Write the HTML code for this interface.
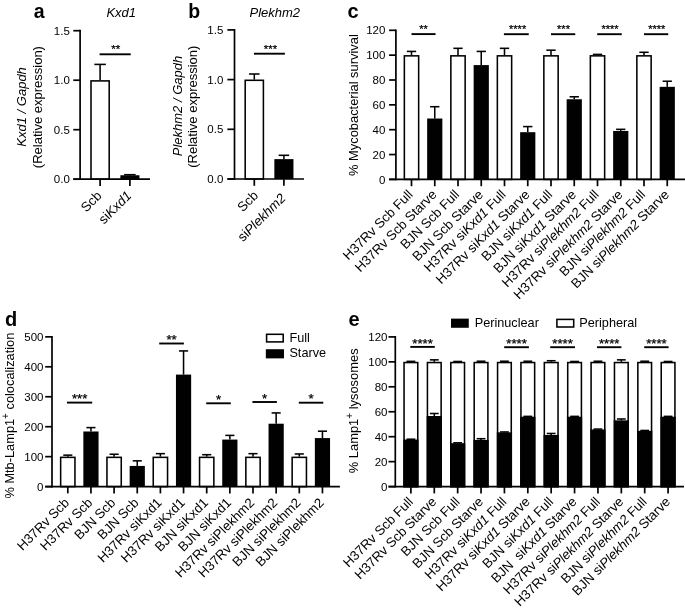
<!DOCTYPE html>
<html lang="en">
<head>
<meta charset="utf-8">
<title>Figure</title>
<style>
html,body{margin:0;padding:0;background:#fff;}
body{width:685px;height:612px;overflow:hidden;}
svg{display:block;will-change:transform;opacity:0.999;}
svg text{font-family:"Liberation Sans",sans-serif;fill:#000;white-space:pre;}
</style>
</head>
<body>
<svg width="685" height="612" viewBox="0 0 685 612" xml:space="preserve">
<rect x="0" y="0" width="685" height="612" fill="#fff"/>
<text x="33.70" y="17.60" font-size="19.5" font-weight="bold">a</text>
<text x="121.20" y="17.00" font-size="13.0" text-anchor="middle" font-style="italic">Kxd1</text>
<line x1="100.10" y1="64.40" x2="100.10" y2="80.20" stroke="#000" stroke-width="1.55" stroke-linecap="butt"/>
<line x1="94.35" y1="64.40" x2="105.85" y2="64.40" stroke="#000" stroke-width="1.55" stroke-linecap="butt"/>
<rect x="91.00" y="80.90" width="18.20" height="98.30" fill="#fff" stroke="#000" stroke-width="1.55"/>
<line x1="129.90" y1="174.70" x2="129.90" y2="175.24" stroke="#000" stroke-width="1.55" stroke-linecap="butt"/>
<line x1="124.15" y1="174.70" x2="135.65" y2="174.70" stroke="#000" stroke-width="1.55" stroke-linecap="butt"/>
<rect x="120.35" y="175.24" width="19.10" height="3.96" fill="#000"/>
<line x1="80.10" y1="29.85" x2="80.10" y2="180.05" stroke="#000" stroke-width="1.7" stroke-linecap="butt"/>
<line x1="73.30" y1="30.70" x2="80.10" y2="30.70" stroke="#000" stroke-width="1.7" stroke-linecap="butt"/>
<text x="69.80" y="35.00" font-size="11.5" text-anchor="end">1.5</text>
<line x1="73.30" y1="80.20" x2="80.10" y2="80.20" stroke="#000" stroke-width="1.7" stroke-linecap="butt"/>
<text x="69.80" y="84.00" font-size="11.5" text-anchor="end">1.0</text>
<line x1="73.30" y1="129.70" x2="80.10" y2="129.70" stroke="#000" stroke-width="1.7" stroke-linecap="butt"/>
<text x="69.80" y="134.00" font-size="11.5" text-anchor="end">0.5</text>
<line x1="73.30" y1="179.20" x2="80.10" y2="179.20" stroke="#000" stroke-width="1.7" stroke-linecap="butt"/>
<text x="69.80" y="183.00" font-size="11.5" text-anchor="end">0.0</text>
<line x1="73.30" y1="179.20" x2="150.00" y2="179.20" stroke="#000" stroke-width="1.7" stroke-linecap="butt"/>
<line x1="100.10" y1="179.20" x2="100.10" y2="186.00" stroke="#000" stroke-width="1.7" stroke-linecap="butt"/>
<line x1="129.90" y1="179.20" x2="129.90" y2="186.00" stroke="#000" stroke-width="1.7" stroke-linecap="butt"/>
<line x1="99.60" y1="54.30" x2="130.70" y2="54.30" stroke="#000" stroke-width="1.9" stroke-linecap="butt"/>
<text x="115.65" y="53.30" font-size="11.6" text-anchor="middle" stroke="#000" stroke-width="0.25">**</text>
<text x="102.40" y="196.50" font-size="13.3" text-anchor="end" transform="rotate(-45 102.40 196.50)">Scb</text>
<text x="132.20" y="196.50" font-size="13.3" text-anchor="end" transform="rotate(-45 132.20 196.50)">si<tspan font-style="italic">Kxd1</tspan></text>
<text x="26.50" y="106.90" font-size="13.0" text-anchor="middle" transform="rotate(-90 26.50 106.90)"><tspan font-style="italic">Kxd1 / Gapdh</tspan></text>
<text x="42.30" y="107.10" font-size="13.0" text-anchor="middle" transform="rotate(-90 42.30 107.10)">(Relative expression)</text>
<text x="188.30" y="17.60" font-size="19.5" font-weight="bold">b</text>
<text x="274.80" y="17.00" font-size="13.0" text-anchor="middle" font-style="italic">Plekhm2</text>
<line x1="254.30" y1="74.00" x2="254.30" y2="79.60" stroke="#000" stroke-width="1.55" stroke-linecap="butt"/>
<line x1="249.05" y1="74.00" x2="259.55" y2="74.00" stroke="#000" stroke-width="1.55" stroke-linecap="butt"/>
<rect x="245.20" y="80.30" width="18.20" height="98.70" fill="#fff" stroke="#000" stroke-width="1.55"/>
<line x1="283.90" y1="155.30" x2="283.90" y2="159.12" stroke="#000" stroke-width="1.55" stroke-linecap="butt"/>
<line x1="278.65" y1="155.30" x2="289.15" y2="155.30" stroke="#000" stroke-width="1.55" stroke-linecap="butt"/>
<rect x="274.35" y="159.12" width="19.10" height="19.88" fill="#000"/>
<line x1="234.50" y1="29.05" x2="234.50" y2="179.85" stroke="#000" stroke-width="1.7" stroke-linecap="butt"/>
<line x1="227.40" y1="29.90" x2="234.50" y2="29.90" stroke="#000" stroke-width="1.7" stroke-linecap="butt"/>
<text x="223.30" y="34.00" font-size="11.5" text-anchor="end">1.5</text>
<line x1="227.40" y1="79.60" x2="234.50" y2="79.60" stroke="#000" stroke-width="1.7" stroke-linecap="butt"/>
<text x="223.30" y="84.00" font-size="11.5" text-anchor="end">1.0</text>
<line x1="227.40" y1="129.30" x2="234.50" y2="129.30" stroke="#000" stroke-width="1.7" stroke-linecap="butt"/>
<text x="223.30" y="133.00" font-size="11.5" text-anchor="end">0.5</text>
<line x1="227.40" y1="179.00" x2="234.50" y2="179.00" stroke="#000" stroke-width="1.7" stroke-linecap="butt"/>
<text x="223.30" y="183.00" font-size="11.5" text-anchor="end">0.0</text>
<line x1="227.40" y1="179.00" x2="304.00" y2="179.00" stroke="#000" stroke-width="1.7" stroke-linecap="butt"/>
<line x1="254.30" y1="179.00" x2="254.30" y2="185.80" stroke="#000" stroke-width="1.7" stroke-linecap="butt"/>
<line x1="283.90" y1="179.00" x2="283.90" y2="185.80" stroke="#000" stroke-width="1.7" stroke-linecap="butt"/>
<line x1="254.00" y1="53.70" x2="284.90" y2="53.70" stroke="#000" stroke-width="1.9" stroke-linecap="butt"/>
<text x="270.45" y="52.70" font-size="11.4" text-anchor="middle" stroke="#000" stroke-width="0.25">***</text>
<text x="259.00" y="196.20" font-size="13.3" text-anchor="end" transform="rotate(-45 259.00 196.20)">Scb</text>
<text x="286.40" y="198.90" font-size="13.3" text-anchor="end" transform="rotate(-45 286.40 198.90)">si<tspan font-style="italic">Plekhm2</tspan></text>
<text x="182.00" y="106.00" font-size="13.0" text-anchor="middle" transform="rotate(-90 182.00 106.00)"><tspan font-style="italic">Plekhm2 / Gapdh</tspan></text>
<text x="197.50" y="106.65" font-size="13.0" text-anchor="middle" transform="rotate(-90 197.50 106.65)">(Relative expression)</text>
<text x="347.50" y="17.70" font-size="20" font-weight="bold">c</text>
<line x1="411.50" y1="51.42" x2="411.50" y2="55.15" stroke="#000" stroke-width="1.55" stroke-linecap="butt"/>
<line x1="406.85" y1="51.42" x2="416.15" y2="51.42" stroke="#000" stroke-width="1.55" stroke-linecap="butt"/>
<rect x="404.35" y="55.85" width="14.30" height="123.55" fill="#fff" stroke="#000" stroke-width="1.55"/>
<line x1="434.75" y1="106.71" x2="434.75" y2="118.52" stroke="#000" stroke-width="1.55" stroke-linecap="butt"/>
<line x1="430.10" y1="106.71" x2="439.40" y2="106.71" stroke="#000" stroke-width="1.55" stroke-linecap="butt"/>
<rect x="427.15" y="118.52" width="15.20" height="60.88" fill="#000"/>
<line x1="458.00" y1="48.32" x2="458.00" y2="55.15" stroke="#000" stroke-width="1.55" stroke-linecap="butt"/>
<line x1="453.35" y1="48.32" x2="462.65" y2="48.32" stroke="#000" stroke-width="1.55" stroke-linecap="butt"/>
<rect x="450.85" y="55.85" width="14.30" height="123.55" fill="#fff" stroke="#000" stroke-width="1.55"/>
<line x1="481.25" y1="51.42" x2="481.25" y2="65.09" stroke="#000" stroke-width="1.55" stroke-linecap="butt"/>
<line x1="476.60" y1="51.42" x2="485.90" y2="51.42" stroke="#000" stroke-width="1.55" stroke-linecap="butt"/>
<rect x="473.65" y="65.09" width="15.20" height="114.31" fill="#000"/>
<line x1="504.50" y1="48.32" x2="504.50" y2="55.15" stroke="#000" stroke-width="1.55" stroke-linecap="butt"/>
<line x1="499.85" y1="48.32" x2="509.15" y2="48.32" stroke="#000" stroke-width="1.55" stroke-linecap="butt"/>
<rect x="497.35" y="55.85" width="14.30" height="123.55" fill="#fff" stroke="#000" stroke-width="1.55"/>
<line x1="527.75" y1="126.59" x2="527.75" y2="132.19" stroke="#000" stroke-width="1.55" stroke-linecap="butt"/>
<line x1="523.10" y1="126.59" x2="532.40" y2="126.59" stroke="#000" stroke-width="1.55" stroke-linecap="butt"/>
<rect x="520.15" y="132.19" width="15.20" height="47.22" fill="#000"/>
<line x1="551.00" y1="50.18" x2="551.00" y2="55.15" stroke="#000" stroke-width="1.55" stroke-linecap="butt"/>
<line x1="546.35" y1="50.18" x2="555.65" y2="50.18" stroke="#000" stroke-width="1.55" stroke-linecap="butt"/>
<rect x="543.85" y="55.85" width="14.30" height="123.55" fill="#fff" stroke="#000" stroke-width="1.55"/>
<line x1="574.25" y1="96.77" x2="574.25" y2="99.26" stroke="#000" stroke-width="1.55" stroke-linecap="butt"/>
<line x1="569.60" y1="96.77" x2="578.90" y2="96.77" stroke="#000" stroke-width="1.55" stroke-linecap="butt"/>
<rect x="566.65" y="99.26" width="15.20" height="80.14" fill="#000"/>
<line x1="597.50" y1="54.40" x2="597.50" y2="55.15" stroke="#000" stroke-width="1.55" stroke-linecap="butt"/>
<line x1="592.85" y1="54.40" x2="602.15" y2="54.40" stroke="#000" stroke-width="1.55" stroke-linecap="butt"/>
<rect x="590.35" y="55.85" width="14.30" height="123.55" fill="#fff" stroke="#000" stroke-width="1.55"/>
<line x1="620.75" y1="129.33" x2="620.75" y2="130.94" stroke="#000" stroke-width="1.55" stroke-linecap="butt"/>
<line x1="616.10" y1="129.33" x2="625.40" y2="129.33" stroke="#000" stroke-width="1.55" stroke-linecap="butt"/>
<rect x="613.15" y="130.94" width="15.20" height="48.46" fill="#000"/>
<line x1="644.00" y1="52.29" x2="644.00" y2="55.15" stroke="#000" stroke-width="1.55" stroke-linecap="butt"/>
<line x1="639.35" y1="52.29" x2="648.65" y2="52.29" stroke="#000" stroke-width="1.55" stroke-linecap="butt"/>
<rect x="636.85" y="55.85" width="14.30" height="123.55" fill="#fff" stroke="#000" stroke-width="1.55"/>
<line x1="667.25" y1="81.24" x2="667.25" y2="86.83" stroke="#000" stroke-width="1.55" stroke-linecap="butt"/>
<line x1="662.60" y1="81.24" x2="671.90" y2="81.24" stroke="#000" stroke-width="1.55" stroke-linecap="butt"/>
<rect x="659.65" y="86.83" width="15.20" height="92.57" fill="#000"/>
<line x1="395.90" y1="29.45" x2="395.90" y2="180.25" stroke="#000" stroke-width="1.7" stroke-linecap="butt"/>
<line x1="389.10" y1="30.30" x2="395.90" y2="30.30" stroke="#000" stroke-width="1.7" stroke-linecap="butt"/>
<text x="385.40" y="34.00" font-size="11.5" text-anchor="end">120</text>
<line x1="389.10" y1="55.15" x2="395.90" y2="55.15" stroke="#000" stroke-width="1.7" stroke-linecap="butt"/>
<text x="385.40" y="59.00" font-size="11.5" text-anchor="end">100</text>
<line x1="389.10" y1="80.00" x2="395.90" y2="80.00" stroke="#000" stroke-width="1.7" stroke-linecap="butt"/>
<text x="385.40" y="84.00" font-size="11.5" text-anchor="end">80</text>
<line x1="389.10" y1="104.85" x2="395.90" y2="104.85" stroke="#000" stroke-width="1.7" stroke-linecap="butt"/>
<text x="385.40" y="109.00" font-size="11.5" text-anchor="end">60</text>
<line x1="389.10" y1="129.70" x2="395.90" y2="129.70" stroke="#000" stroke-width="1.7" stroke-linecap="butt"/>
<text x="385.40" y="134.00" font-size="11.5" text-anchor="end">40</text>
<line x1="389.10" y1="154.55" x2="395.90" y2="154.55" stroke="#000" stroke-width="1.7" stroke-linecap="butt"/>
<text x="385.40" y="159.00" font-size="11.5" text-anchor="end">20</text>
<line x1="389.10" y1="179.40" x2="395.90" y2="179.40" stroke="#000" stroke-width="1.7" stroke-linecap="butt"/>
<text x="385.40" y="184.00" font-size="11.5" text-anchor="end">0</text>
<line x1="389.10" y1="179.40" x2="685.00" y2="179.40" stroke="#000" stroke-width="1.7" stroke-linecap="butt"/>
<line x1="411.50" y1="179.40" x2="411.50" y2="186.20" stroke="#000" stroke-width="1.7" stroke-linecap="butt"/>
<line x1="434.75" y1="179.40" x2="434.75" y2="186.20" stroke="#000" stroke-width="1.7" stroke-linecap="butt"/>
<line x1="458.00" y1="179.40" x2="458.00" y2="186.20" stroke="#000" stroke-width="1.7" stroke-linecap="butt"/>
<line x1="481.25" y1="179.40" x2="481.25" y2="186.20" stroke="#000" stroke-width="1.7" stroke-linecap="butt"/>
<line x1="504.50" y1="179.40" x2="504.50" y2="186.20" stroke="#000" stroke-width="1.7" stroke-linecap="butt"/>
<line x1="527.75" y1="179.40" x2="527.75" y2="186.20" stroke="#000" stroke-width="1.7" stroke-linecap="butt"/>
<line x1="551.00" y1="179.40" x2="551.00" y2="186.20" stroke="#000" stroke-width="1.7" stroke-linecap="butt"/>
<line x1="574.25" y1="179.40" x2="574.25" y2="186.20" stroke="#000" stroke-width="1.7" stroke-linecap="butt"/>
<line x1="597.50" y1="179.40" x2="597.50" y2="186.20" stroke="#000" stroke-width="1.7" stroke-linecap="butt"/>
<line x1="620.75" y1="179.40" x2="620.75" y2="186.20" stroke="#000" stroke-width="1.7" stroke-linecap="butt"/>
<line x1="644.00" y1="179.40" x2="644.00" y2="186.20" stroke="#000" stroke-width="1.7" stroke-linecap="butt"/>
<line x1="667.25" y1="179.40" x2="667.25" y2="186.20" stroke="#000" stroke-width="1.7" stroke-linecap="butt"/>
<line x1="411.50" y1="34.10" x2="435.55" y2="34.10" stroke="#000" stroke-width="1.9" stroke-linecap="butt"/>
<text x="423.52" y="33.10" font-size="11.0" text-anchor="middle" stroke="#000" stroke-width="0.25">**</text>
<line x1="503.90" y1="34.20" x2="528.75" y2="34.20" stroke="#000" stroke-width="1.9" stroke-linecap="butt"/>
<text x="517.62" y="33.20" font-size="11.0" text-anchor="middle" stroke="#000" stroke-width="0.25">****</text>
<line x1="551.00" y1="34.20" x2="575.25" y2="34.20" stroke="#000" stroke-width="1.9" stroke-linecap="butt"/>
<text x="563.52" y="33.20" font-size="11.0" text-anchor="middle" stroke="#000" stroke-width="0.25">***</text>
<line x1="597.20" y1="34.20" x2="621.75" y2="34.20" stroke="#000" stroke-width="1.9" stroke-linecap="butt"/>
<text x="609.98" y="33.20" font-size="11.0" text-anchor="middle" stroke="#000" stroke-width="0.25">****</text>
<line x1="644.00" y1="34.20" x2="668.25" y2="34.20" stroke="#000" stroke-width="1.9" stroke-linecap="butt"/>
<text x="656.83" y="33.20" font-size="11.0" text-anchor="middle" stroke="#000" stroke-width="0.25">****</text>
<text x="413.70" y="195.40" font-size="13.3" text-anchor="end" transform="rotate(-45 413.70 195.40)">H37Rv Scb Full</text>
<text x="437.55" y="195.40" font-size="13.3" text-anchor="end" transform="rotate(-45 437.55 195.40)">H37Rv Scb Starve</text>
<text x="460.20" y="195.40" font-size="13.3" text-anchor="end" transform="rotate(-45 460.20 195.40)">BJN Scb Full</text>
<text x="484.05" y="195.40" font-size="13.3" text-anchor="end" transform="rotate(-45 484.05 195.40)">BJN Scb Starve</text>
<text x="506.70" y="195.40" font-size="13.3" text-anchor="end" transform="rotate(-45 506.70 195.40)">H37Rv si<tspan font-style="italic">Kxd1</tspan> Full</text>
<text x="530.55" y="195.40" font-size="13.3" text-anchor="end" transform="rotate(-45 530.55 195.40)">H37Rv si<tspan font-style="italic">Kxd1</tspan> Starve</text>
<text x="553.20" y="195.40" font-size="13.3" text-anchor="end" transform="rotate(-45 553.20 195.40)">BJN si<tspan font-style="italic">Kxd1</tspan> Full</text>
<text x="577.05" y="195.40" font-size="13.3" text-anchor="end" transform="rotate(-45 577.05 195.40)">BJN si<tspan font-style="italic">Kxd1</tspan> Starve</text>
<text x="599.70" y="195.40" font-size="13.3" text-anchor="end" transform="rotate(-45 599.70 195.40)">H37Rv si<tspan font-style="italic">Plekhm2</tspan> Full</text>
<text x="623.55" y="195.40" font-size="13.3" text-anchor="end" transform="rotate(-45 623.55 195.40)">H37Rv si<tspan font-style="italic">Plekhm2</tspan> Starve</text>
<text x="646.20" y="195.40" font-size="13.3" text-anchor="end" transform="rotate(-45 646.20 195.40)">BJN si<tspan font-style="italic">Plekhm2</tspan> Full</text>
<text x="670.05" y="195.40" font-size="13.3" text-anchor="end" transform="rotate(-45 670.05 195.40)">BJN si<tspan font-style="italic">Plekhm2</tspan> Starve</text>
<text x="358.00" y="105.10" font-size="12.9" text-anchor="middle" transform="rotate(-90 358.00 105.10)">% Mycobacterial survival</text>
<text x="5.10" y="326.00" font-size="20" font-weight="bold">d</text>
<line x1="67.80" y1="455.15" x2="67.80" y2="456.65" stroke="#000" stroke-width="1.55" stroke-linecap="butt"/>
<line x1="63.25" y1="455.15" x2="72.35" y2="455.15" stroke="#000" stroke-width="1.55" stroke-linecap="butt"/>
<rect x="60.65" y="457.35" width="14.30" height="29.25" fill="#fff" stroke="#000" stroke-width="1.55"/>
<line x1="90.95" y1="427.60" x2="90.95" y2="431.49" stroke="#000" stroke-width="1.55" stroke-linecap="butt"/>
<line x1="86.40" y1="427.60" x2="95.50" y2="427.60" stroke="#000" stroke-width="1.55" stroke-linecap="butt"/>
<rect x="83.35" y="431.49" width="15.20" height="55.11" fill="#000"/>
<line x1="114.10" y1="454.25" x2="114.10" y2="456.65" stroke="#000" stroke-width="1.55" stroke-linecap="butt"/>
<line x1="109.55" y1="454.25" x2="118.65" y2="454.25" stroke="#000" stroke-width="1.55" stroke-linecap="butt"/>
<rect x="106.95" y="457.35" width="14.30" height="29.25" fill="#fff" stroke="#000" stroke-width="1.55"/>
<line x1="137.25" y1="460.84" x2="137.25" y2="465.93" stroke="#000" stroke-width="1.55" stroke-linecap="butt"/>
<line x1="132.70" y1="460.84" x2="141.80" y2="460.84" stroke="#000" stroke-width="1.55" stroke-linecap="butt"/>
<rect x="129.65" y="465.93" width="15.20" height="20.67" fill="#000"/>
<line x1="160.40" y1="453.66" x2="160.40" y2="456.65" stroke="#000" stroke-width="1.55" stroke-linecap="butt"/>
<line x1="155.85" y1="453.66" x2="164.95" y2="453.66" stroke="#000" stroke-width="1.55" stroke-linecap="butt"/>
<rect x="153.25" y="457.35" width="14.30" height="29.25" fill="#fff" stroke="#000" stroke-width="1.55"/>
<line x1="183.55" y1="350.93" x2="183.55" y2="374.59" stroke="#000" stroke-width="1.55" stroke-linecap="butt"/>
<line x1="179.00" y1="350.93" x2="188.10" y2="350.93" stroke="#000" stroke-width="1.55" stroke-linecap="butt"/>
<rect x="175.95" y="374.59" width="15.20" height="112.01" fill="#000"/>
<line x1="206.70" y1="454.70" x2="206.70" y2="456.65" stroke="#000" stroke-width="1.55" stroke-linecap="butt"/>
<line x1="202.15" y1="454.70" x2="211.25" y2="454.70" stroke="#000" stroke-width="1.55" stroke-linecap="butt"/>
<rect x="199.55" y="457.35" width="14.30" height="29.25" fill="#fff" stroke="#000" stroke-width="1.55"/>
<line x1="229.85" y1="435.39" x2="229.85" y2="439.58" stroke="#000" stroke-width="1.55" stroke-linecap="butt"/>
<line x1="225.30" y1="435.39" x2="234.40" y2="435.39" stroke="#000" stroke-width="1.55" stroke-linecap="butt"/>
<rect x="222.25" y="439.58" width="15.20" height="47.02" fill="#000"/>
<line x1="253.00" y1="453.66" x2="253.00" y2="456.65" stroke="#000" stroke-width="1.55" stroke-linecap="butt"/>
<line x1="248.45" y1="453.66" x2="257.55" y2="453.66" stroke="#000" stroke-width="1.55" stroke-linecap="butt"/>
<rect x="245.85" y="457.35" width="14.30" height="29.25" fill="#fff" stroke="#000" stroke-width="1.55"/>
<line x1="276.15" y1="412.92" x2="276.15" y2="423.71" stroke="#000" stroke-width="1.55" stroke-linecap="butt"/>
<line x1="271.60" y1="412.92" x2="280.70" y2="412.92" stroke="#000" stroke-width="1.55" stroke-linecap="butt"/>
<rect x="268.55" y="423.71" width="15.20" height="62.89" fill="#000"/>
<line x1="299.30" y1="453.95" x2="299.30" y2="456.65" stroke="#000" stroke-width="1.55" stroke-linecap="butt"/>
<line x1="294.75" y1="453.95" x2="303.85" y2="453.95" stroke="#000" stroke-width="1.55" stroke-linecap="butt"/>
<rect x="292.15" y="457.35" width="14.30" height="29.25" fill="#fff" stroke="#000" stroke-width="1.55"/>
<line x1="322.45" y1="431.19" x2="322.45" y2="438.08" stroke="#000" stroke-width="1.55" stroke-linecap="butt"/>
<line x1="317.90" y1="431.19" x2="327.00" y2="431.19" stroke="#000" stroke-width="1.55" stroke-linecap="butt"/>
<rect x="314.85" y="438.08" width="15.20" height="48.52" fill="#000"/>
<line x1="52.00" y1="336.00" x2="52.00" y2="487.45" stroke="#000" stroke-width="1.7" stroke-linecap="butt"/>
<line x1="45.20" y1="336.85" x2="52.00" y2="336.85" stroke="#000" stroke-width="1.7" stroke-linecap="butt"/>
<text x="43.50" y="341.00" font-size="11.5" text-anchor="end">500</text>
<line x1="45.20" y1="366.80" x2="52.00" y2="366.80" stroke="#000" stroke-width="1.7" stroke-linecap="butt"/>
<text x="43.50" y="371.00" font-size="11.5" text-anchor="end">400</text>
<line x1="45.20" y1="396.75" x2="52.00" y2="396.75" stroke="#000" stroke-width="1.7" stroke-linecap="butt"/>
<text x="43.50" y="401.00" font-size="11.5" text-anchor="end">300</text>
<line x1="45.20" y1="426.70" x2="52.00" y2="426.70" stroke="#000" stroke-width="1.7" stroke-linecap="butt"/>
<text x="43.50" y="431.00" font-size="11.5" text-anchor="end">200</text>
<line x1="45.20" y1="456.65" x2="52.00" y2="456.65" stroke="#000" stroke-width="1.7" stroke-linecap="butt"/>
<text x="43.50" y="461.00" font-size="11.5" text-anchor="end">100</text>
<line x1="45.20" y1="486.60" x2="52.00" y2="486.60" stroke="#000" stroke-width="1.7" stroke-linecap="butt"/>
<text x="43.50" y="491.00" font-size="11.5" text-anchor="end">0</text>
<line x1="45.20" y1="486.60" x2="339.90" y2="486.60" stroke="#000" stroke-width="1.7" stroke-linecap="butt"/>
<line x1="67.80" y1="486.60" x2="67.80" y2="493.40" stroke="#000" stroke-width="1.7" stroke-linecap="butt"/>
<line x1="90.95" y1="486.60" x2="90.95" y2="493.40" stroke="#000" stroke-width="1.7" stroke-linecap="butt"/>
<line x1="114.10" y1="486.60" x2="114.10" y2="493.40" stroke="#000" stroke-width="1.7" stroke-linecap="butt"/>
<line x1="137.25" y1="486.60" x2="137.25" y2="493.40" stroke="#000" stroke-width="1.7" stroke-linecap="butt"/>
<line x1="160.40" y1="486.60" x2="160.40" y2="493.40" stroke="#000" stroke-width="1.7" stroke-linecap="butt"/>
<line x1="183.55" y1="486.60" x2="183.55" y2="493.40" stroke="#000" stroke-width="1.7" stroke-linecap="butt"/>
<line x1="206.70" y1="486.60" x2="206.70" y2="493.40" stroke="#000" stroke-width="1.7" stroke-linecap="butt"/>
<line x1="229.85" y1="486.60" x2="229.85" y2="493.40" stroke="#000" stroke-width="1.7" stroke-linecap="butt"/>
<line x1="253.00" y1="486.60" x2="253.00" y2="493.40" stroke="#000" stroke-width="1.7" stroke-linecap="butt"/>
<line x1="276.15" y1="486.60" x2="276.15" y2="493.40" stroke="#000" stroke-width="1.7" stroke-linecap="butt"/>
<line x1="299.30" y1="486.60" x2="299.30" y2="493.40" stroke="#000" stroke-width="1.7" stroke-linecap="butt"/>
<line x1="322.45" y1="486.60" x2="322.45" y2="493.40" stroke="#000" stroke-width="1.7" stroke-linecap="butt"/>
<line x1="67.00" y1="402.60" x2="92.20" y2="402.60" stroke="#000" stroke-width="1.9" stroke-linecap="butt"/>
<text x="79.60" y="403.20" font-size="13.2" text-anchor="middle" stroke="#000" stroke-width="0.25">***</text>
<line x1="159.20" y1="343.50" x2="183.90" y2="343.50" stroke="#000" stroke-width="1.9" stroke-linecap="butt"/>
<text x="171.55" y="344.10" font-size="13.2" text-anchor="middle" stroke="#000" stroke-width="0.25">**</text>
<line x1="206.20" y1="403.30" x2="230.80" y2="403.30" stroke="#000" stroke-width="1.9" stroke-linecap="butt"/>
<text x="218.50" y="403.90" font-size="13.2" text-anchor="middle" stroke="#000" stroke-width="0.25">*</text>
<line x1="252.40" y1="402.00" x2="276.90" y2="402.00" stroke="#000" stroke-width="1.9" stroke-linecap="butt"/>
<text x="264.65" y="402.60" font-size="13.2" text-anchor="middle" stroke="#000" stroke-width="0.25">*</text>
<line x1="298.80" y1="402.70" x2="323.30" y2="402.70" stroke="#000" stroke-width="1.9" stroke-linecap="butt"/>
<text x="311.05" y="403.30" font-size="13.2" text-anchor="middle" stroke="#000" stroke-width="0.25">*</text>
<text x="70.00" y="503.60" font-size="13.3" text-anchor="end" transform="rotate(-45 70.00 503.60)">H37Rv Scb</text>
<text x="93.15" y="503.60" font-size="13.3" text-anchor="end" transform="rotate(-45 93.15 503.60)">H37Rv Scb</text>
<text x="116.30" y="503.60" font-size="13.3" text-anchor="end" transform="rotate(-45 116.30 503.60)">BJN Scb</text>
<text x="139.45" y="503.60" font-size="13.3" text-anchor="end" transform="rotate(-45 139.45 503.60)">BJN Scb</text>
<text x="162.60" y="503.60" font-size="13.3" text-anchor="end" transform="rotate(-45 162.60 503.60)">H37Rv siKxd1</text>
<text x="185.75" y="503.60" font-size="13.3" text-anchor="end" transform="rotate(-45 185.75 503.60)">H37Rv siKxd1</text>
<text x="208.90" y="503.60" font-size="13.3" text-anchor="end" transform="rotate(-45 208.90 503.60)">BJN siKxd1</text>
<text x="232.05" y="503.60" font-size="13.3" text-anchor="end" transform="rotate(-45 232.05 503.60)">BJN siKxd1</text>
<text x="255.20" y="503.60" font-size="13.3" text-anchor="end" transform="rotate(-45 255.20 503.60)">H37Rv siPlekhm2</text>
<text x="278.35" y="503.60" font-size="13.3" text-anchor="end" transform="rotate(-45 278.35 503.60)">H37Rv siPlekhm2</text>
<text x="301.50" y="503.60" font-size="13.3" text-anchor="end" transform="rotate(-45 301.50 503.60)">BJN siPlekhm2</text>
<text x="324.65" y="503.60" font-size="13.3" text-anchor="end" transform="rotate(-45 324.65 503.60)">BJN siPlekhm2</text>
<rect x="266.60" y="334.30" width="16.60" height="7.60" fill="#fff" stroke="#000" stroke-width="1.55"/>
<text x="289.40" y="342.00" font-size="12.7">Full</text>
<rect x="266.60" y="350.00" width="16.60" height="7.60" fill="#000" stroke="#000" stroke-width="1.55"/>
<text x="289.40" y="357.40" font-size="12.7">Starve</text>
<text x="14.00" y="415.60" font-size="12.8" text-anchor="middle" transform="rotate(-90 14.00 415.60)">% Mtb-Lamp1<tspan font-size="10" dy="-5">+</tspan><tspan dy="5"> colocalization</tspan></text>
<text x="348.40" y="325.80" font-size="20" font-weight="bold">e</text>
<line x1="410.90" y1="361.35" x2="410.90" y2="361.85" stroke="#000" stroke-width="1.55" stroke-linecap="butt"/>
<line x1="406.50" y1="361.35" x2="415.30" y2="361.35" stroke="#000" stroke-width="1.55" stroke-linecap="butt"/>
<rect x="404.05" y="362.55" width="13.70" height="124.05" fill="#fff" stroke="#000" stroke-width="1.55"/>
<line x1="410.90" y1="439.20" x2="410.90" y2="439.57" stroke="#000" stroke-width="1.55" stroke-linecap="butt"/>
<line x1="406.50" y1="439.20" x2="415.30" y2="439.20" stroke="#000" stroke-width="1.55" stroke-linecap="butt"/>
<rect x="404.05" y="440.34" width="13.70" height="46.26" fill="#000" stroke="#000" stroke-width="1.55"/>
<line x1="434.28" y1="359.85" x2="434.28" y2="361.85" stroke="#000" stroke-width="1.55" stroke-linecap="butt"/>
<line x1="429.88" y1="359.85" x2="438.68" y2="359.85" stroke="#000" stroke-width="1.55" stroke-linecap="butt"/>
<rect x="427.43" y="362.55" width="13.70" height="124.05" fill="#fff" stroke="#000" stroke-width="1.55"/>
<line x1="434.28" y1="413.50" x2="434.28" y2="415.99" stroke="#000" stroke-width="1.55" stroke-linecap="butt"/>
<line x1="429.88" y1="413.50" x2="438.68" y2="413.50" stroke="#000" stroke-width="1.55" stroke-linecap="butt"/>
<rect x="427.43" y="416.77" width="13.70" height="69.83" fill="#000" stroke="#000" stroke-width="1.55"/>
<line x1="457.66" y1="361.48" x2="457.66" y2="361.85" stroke="#000" stroke-width="1.55" stroke-linecap="butt"/>
<line x1="453.26" y1="361.48" x2="462.06" y2="361.48" stroke="#000" stroke-width="1.55" stroke-linecap="butt"/>
<rect x="450.81" y="362.55" width="13.70" height="124.05" fill="#fff" stroke="#000" stroke-width="1.55"/>
<line x1="457.66" y1="442.81" x2="457.66" y2="443.19" stroke="#000" stroke-width="1.55" stroke-linecap="butt"/>
<line x1="453.26" y1="442.81" x2="462.06" y2="442.81" stroke="#000" stroke-width="1.55" stroke-linecap="butt"/>
<rect x="450.81" y="443.96" width="13.70" height="42.64" fill="#000" stroke="#000" stroke-width="1.55"/>
<line x1="481.04" y1="361.23" x2="481.04" y2="361.85" stroke="#000" stroke-width="1.55" stroke-linecap="butt"/>
<line x1="476.64" y1="361.23" x2="485.44" y2="361.23" stroke="#000" stroke-width="1.55" stroke-linecap="butt"/>
<rect x="474.19" y="362.55" width="13.70" height="124.05" fill="#fff" stroke="#000" stroke-width="1.55"/>
<line x1="481.04" y1="438.70" x2="481.04" y2="439.94" stroke="#000" stroke-width="1.55" stroke-linecap="butt"/>
<line x1="476.64" y1="438.70" x2="485.44" y2="438.70" stroke="#000" stroke-width="1.55" stroke-linecap="butt"/>
<rect x="474.19" y="440.72" width="13.70" height="45.88" fill="#000" stroke="#000" stroke-width="1.55"/>
<line x1="504.42" y1="361.23" x2="504.42" y2="361.85" stroke="#000" stroke-width="1.55" stroke-linecap="butt"/>
<line x1="500.02" y1="361.23" x2="508.82" y2="361.23" stroke="#000" stroke-width="1.55" stroke-linecap="butt"/>
<rect x="497.57" y="362.55" width="13.70" height="124.05" fill="#fff" stroke="#000" stroke-width="1.55"/>
<line x1="504.42" y1="431.96" x2="504.42" y2="432.33" stroke="#000" stroke-width="1.55" stroke-linecap="butt"/>
<line x1="500.02" y1="431.96" x2="508.82" y2="431.96" stroke="#000" stroke-width="1.55" stroke-linecap="butt"/>
<rect x="497.57" y="433.11" width="13.70" height="53.49" fill="#000" stroke="#000" stroke-width="1.55"/>
<line x1="527.80" y1="361.23" x2="527.80" y2="361.85" stroke="#000" stroke-width="1.55" stroke-linecap="butt"/>
<line x1="523.40" y1="361.23" x2="532.20" y2="361.23" stroke="#000" stroke-width="1.55" stroke-linecap="butt"/>
<rect x="520.95" y="362.55" width="13.70" height="124.05" fill="#fff" stroke="#000" stroke-width="1.55"/>
<line x1="527.80" y1="416.37" x2="527.80" y2="416.74" stroke="#000" stroke-width="1.55" stroke-linecap="butt"/>
<line x1="523.40" y1="416.37" x2="532.20" y2="416.37" stroke="#000" stroke-width="1.55" stroke-linecap="butt"/>
<rect x="520.95" y="417.51" width="13.70" height="69.09" fill="#000" stroke="#000" stroke-width="1.55"/>
<line x1="551.18" y1="360.73" x2="551.18" y2="361.85" stroke="#000" stroke-width="1.55" stroke-linecap="butt"/>
<line x1="546.78" y1="360.73" x2="555.58" y2="360.73" stroke="#000" stroke-width="1.55" stroke-linecap="butt"/>
<rect x="544.33" y="362.55" width="13.70" height="124.05" fill="#fff" stroke="#000" stroke-width="1.55"/>
<line x1="551.18" y1="433.46" x2="551.18" y2="434.95" stroke="#000" stroke-width="1.55" stroke-linecap="butt"/>
<line x1="546.78" y1="433.46" x2="555.58" y2="433.46" stroke="#000" stroke-width="1.55" stroke-linecap="butt"/>
<rect x="544.33" y="435.73" width="13.70" height="50.87" fill="#000" stroke="#000" stroke-width="1.55"/>
<line x1="574.56" y1="361.48" x2="574.56" y2="361.85" stroke="#000" stroke-width="1.55" stroke-linecap="butt"/>
<line x1="570.16" y1="361.48" x2="578.96" y2="361.48" stroke="#000" stroke-width="1.55" stroke-linecap="butt"/>
<rect x="567.71" y="362.55" width="13.70" height="124.05" fill="#fff" stroke="#000" stroke-width="1.55"/>
<line x1="574.56" y1="416.37" x2="574.56" y2="416.74" stroke="#000" stroke-width="1.55" stroke-linecap="butt"/>
<line x1="570.16" y1="416.37" x2="578.96" y2="416.37" stroke="#000" stroke-width="1.55" stroke-linecap="butt"/>
<rect x="567.71" y="417.51" width="13.70" height="69.09" fill="#000" stroke="#000" stroke-width="1.55"/>
<line x1="597.94" y1="361.23" x2="597.94" y2="361.85" stroke="#000" stroke-width="1.55" stroke-linecap="butt"/>
<line x1="593.54" y1="361.23" x2="602.34" y2="361.23" stroke="#000" stroke-width="1.55" stroke-linecap="butt"/>
<rect x="591.09" y="362.55" width="13.70" height="124.05" fill="#fff" stroke="#000" stroke-width="1.55"/>
<line x1="597.94" y1="429.09" x2="597.94" y2="429.46" stroke="#000" stroke-width="1.55" stroke-linecap="butt"/>
<line x1="593.54" y1="429.09" x2="602.34" y2="429.09" stroke="#000" stroke-width="1.55" stroke-linecap="butt"/>
<rect x="591.09" y="430.24" width="13.70" height="56.36" fill="#000" stroke="#000" stroke-width="1.55"/>
<line x1="621.32" y1="359.85" x2="621.32" y2="361.85" stroke="#000" stroke-width="1.55" stroke-linecap="butt"/>
<line x1="616.92" y1="359.85" x2="625.72" y2="359.85" stroke="#000" stroke-width="1.55" stroke-linecap="butt"/>
<rect x="614.47" y="362.55" width="13.70" height="124.05" fill="#fff" stroke="#000" stroke-width="1.55"/>
<line x1="621.32" y1="418.99" x2="621.32" y2="420.36" stroke="#000" stroke-width="1.55" stroke-linecap="butt"/>
<line x1="616.92" y1="418.99" x2="625.72" y2="418.99" stroke="#000" stroke-width="1.55" stroke-linecap="butt"/>
<rect x="614.47" y="421.13" width="13.70" height="65.47" fill="#000" stroke="#000" stroke-width="1.55"/>
<line x1="644.70" y1="361.23" x2="644.70" y2="361.85" stroke="#000" stroke-width="1.55" stroke-linecap="butt"/>
<line x1="640.30" y1="361.23" x2="649.10" y2="361.23" stroke="#000" stroke-width="1.55" stroke-linecap="butt"/>
<rect x="637.85" y="362.55" width="13.70" height="124.05" fill="#fff" stroke="#000" stroke-width="1.55"/>
<line x1="644.70" y1="430.46" x2="644.70" y2="430.84" stroke="#000" stroke-width="1.55" stroke-linecap="butt"/>
<line x1="640.30" y1="430.46" x2="649.10" y2="430.46" stroke="#000" stroke-width="1.55" stroke-linecap="butt"/>
<rect x="637.85" y="431.61" width="13.70" height="54.99" fill="#000" stroke="#000" stroke-width="1.55"/>
<line x1="668.08" y1="361.48" x2="668.08" y2="361.85" stroke="#000" stroke-width="1.55" stroke-linecap="butt"/>
<line x1="663.68" y1="361.48" x2="672.48" y2="361.48" stroke="#000" stroke-width="1.55" stroke-linecap="butt"/>
<rect x="661.23" y="362.55" width="13.70" height="124.05" fill="#fff" stroke="#000" stroke-width="1.55"/>
<line x1="668.08" y1="416.37" x2="668.08" y2="416.74" stroke="#000" stroke-width="1.55" stroke-linecap="butt"/>
<line x1="663.68" y1="416.37" x2="672.48" y2="416.37" stroke="#000" stroke-width="1.55" stroke-linecap="butt"/>
<rect x="661.23" y="417.51" width="13.70" height="69.09" fill="#000" stroke="#000" stroke-width="1.55"/>
<line x1="395.30" y1="336.05" x2="395.30" y2="487.45" stroke="#000" stroke-width="1.7" stroke-linecap="butt"/>
<line x1="388.50" y1="336.90" x2="395.30" y2="336.90" stroke="#000" stroke-width="1.7" stroke-linecap="butt"/>
<text x="387.50" y="341.00" font-size="11.5" text-anchor="end">120</text>
<line x1="388.50" y1="361.85" x2="395.30" y2="361.85" stroke="#000" stroke-width="1.7" stroke-linecap="butt"/>
<text x="387.50" y="366.00" font-size="11.5" text-anchor="end">100</text>
<line x1="388.50" y1="386.80" x2="395.30" y2="386.80" stroke="#000" stroke-width="1.7" stroke-linecap="butt"/>
<text x="387.50" y="391.00" font-size="11.5" text-anchor="end">80</text>
<line x1="388.50" y1="411.75" x2="395.30" y2="411.75" stroke="#000" stroke-width="1.7" stroke-linecap="butt"/>
<text x="387.50" y="416.00" font-size="11.5" text-anchor="end">60</text>
<line x1="388.50" y1="436.70" x2="395.30" y2="436.70" stroke="#000" stroke-width="1.7" stroke-linecap="butt"/>
<text x="387.50" y="441.00" font-size="11.5" text-anchor="end">40</text>
<line x1="388.50" y1="461.65" x2="395.30" y2="461.65" stroke="#000" stroke-width="1.7" stroke-linecap="butt"/>
<text x="387.50" y="466.00" font-size="11.5" text-anchor="end">20</text>
<line x1="388.50" y1="486.60" x2="395.30" y2="486.60" stroke="#000" stroke-width="1.7" stroke-linecap="butt"/>
<text x="387.50" y="491.00" font-size="11.5" text-anchor="end">0</text>
<line x1="388.50" y1="486.60" x2="684.00" y2="486.60" stroke="#000" stroke-width="1.7" stroke-linecap="butt"/>
<line x1="410.90" y1="486.60" x2="410.90" y2="493.40" stroke="#000" stroke-width="1.7" stroke-linecap="butt"/>
<line x1="434.28" y1="486.60" x2="434.28" y2="493.40" stroke="#000" stroke-width="1.7" stroke-linecap="butt"/>
<line x1="457.66" y1="486.60" x2="457.66" y2="493.40" stroke="#000" stroke-width="1.7" stroke-linecap="butt"/>
<line x1="481.04" y1="486.60" x2="481.04" y2="493.40" stroke="#000" stroke-width="1.7" stroke-linecap="butt"/>
<line x1="504.42" y1="486.60" x2="504.42" y2="493.40" stroke="#000" stroke-width="1.7" stroke-linecap="butt"/>
<line x1="527.80" y1="486.60" x2="527.80" y2="493.40" stroke="#000" stroke-width="1.7" stroke-linecap="butt"/>
<line x1="551.18" y1="486.60" x2="551.18" y2="493.40" stroke="#000" stroke-width="1.7" stroke-linecap="butt"/>
<line x1="574.56" y1="486.60" x2="574.56" y2="493.40" stroke="#000" stroke-width="1.7" stroke-linecap="butt"/>
<line x1="597.94" y1="486.60" x2="597.94" y2="493.40" stroke="#000" stroke-width="1.7" stroke-linecap="butt"/>
<line x1="621.32" y1="486.60" x2="621.32" y2="493.40" stroke="#000" stroke-width="1.7" stroke-linecap="butt"/>
<line x1="644.70" y1="486.60" x2="644.70" y2="493.40" stroke="#000" stroke-width="1.7" stroke-linecap="butt"/>
<line x1="668.08" y1="486.60" x2="668.08" y2="493.40" stroke="#000" stroke-width="1.7" stroke-linecap="butt"/>
<line x1="410.30" y1="346.90" x2="434.80" y2="346.90" stroke="#000" stroke-width="1.9" stroke-linecap="butt"/>
<text x="422.55" y="347.50" font-size="13.2" text-anchor="middle" stroke="#000" stroke-width="0.25">****</text>
<line x1="504.20" y1="347.20" x2="528.90" y2="347.20" stroke="#000" stroke-width="1.9" stroke-linecap="butt"/>
<text x="516.55" y="347.80" font-size="13.2" text-anchor="middle" stroke="#000" stroke-width="0.25">****</text>
<line x1="550.20" y1="347.20" x2="575.00" y2="347.20" stroke="#000" stroke-width="1.9" stroke-linecap="butt"/>
<text x="562.60" y="347.80" font-size="13.2" text-anchor="middle" stroke="#000" stroke-width="0.25">****</text>
<line x1="597.00" y1="347.20" x2="621.40" y2="347.20" stroke="#000" stroke-width="1.9" stroke-linecap="butt"/>
<text x="609.20" y="347.80" font-size="13.2" text-anchor="middle" stroke="#000" stroke-width="0.25">****</text>
<line x1="644.20" y1="347.20" x2="668.60" y2="347.20" stroke="#000" stroke-width="1.9" stroke-linecap="butt"/>
<text x="656.40" y="347.80" font-size="13.2" text-anchor="middle" stroke="#000" stroke-width="0.25">****</text>
<text x="413.90" y="502.60" font-size="13.3" text-anchor="end" transform="rotate(-45 413.90 502.60)">H37Rv Scb Full</text>
<text x="437.28" y="502.60" font-size="13.3" text-anchor="end" transform="rotate(-45 437.28 502.60)">H37Rv Scb Starve</text>
<text x="460.66" y="502.60" font-size="13.3" text-anchor="end" transform="rotate(-45 460.66 502.60)">BJN Scb Full</text>
<text x="484.04" y="502.60" font-size="13.3" text-anchor="end" transform="rotate(-45 484.04 502.60)">BJN Scb Starve</text>
<text x="507.42" y="502.60" font-size="13.3" text-anchor="end" transform="rotate(-45 507.42 502.60)">H37Rv si<tspan font-style="italic">Kxd1</tspan> Full</text>
<text x="530.80" y="502.60" font-size="13.3" text-anchor="end" transform="rotate(-45 530.80 502.60)">H37Rv si<tspan font-style="italic">Kxd1</tspan> Starve</text>
<text x="554.18" y="502.60" font-size="13.3" text-anchor="end" transform="rotate(-45 554.18 502.60)">BJN si<tspan font-style="italic">Kxd1</tspan> Full</text>
<text x="577.56" y="502.60" font-size="13.3" text-anchor="end" transform="rotate(-45 577.56 502.60)">BJN  si<tspan font-style="italic">Kxd1</tspan> Starve</text>
<text x="600.94" y="502.60" font-size="13.3" text-anchor="end" transform="rotate(-45 600.94 502.60)">H37Rv si<tspan font-style="italic">Plekhm2</tspan> Full</text>
<text x="624.32" y="502.60" font-size="13.3" text-anchor="end" transform="rotate(-45 624.32 502.60)">H37Rv si<tspan font-style="italic">Plekhm2</tspan> Starve</text>
<text x="647.70" y="502.60" font-size="13.3" text-anchor="end" transform="rotate(-45 647.70 502.60)">BJN si<tspan font-style="italic">Plekhm2</tspan> Full</text>
<text x="671.08" y="502.60" font-size="13.3" text-anchor="end" transform="rotate(-45 671.08 502.60)">BJN si<tspan font-style="italic">Plekhm2</tspan> Starve</text>
<rect x="451.80" y="319.40" width="16.20" height="7.60" fill="#000" stroke="#000" stroke-width="1.55"/>
<text x="474.70" y="327.40" font-size="12.7">Perinuclear</text>
<rect x="556.90" y="319.40" width="16.80" height="7.60" fill="#fff" stroke="#000" stroke-width="1.55"/>
<text x="579.30" y="327.40" font-size="12.7">Peripheral</text>
<text x="357.60" y="410.80" font-size="12.9" text-anchor="middle" transform="rotate(-90 357.60 410.80)">% Lamp1<tspan font-size="10" dy="-5">+</tspan><tspan dy="5"> lysosomes</tspan></text>
</svg>
</body>
</html>
